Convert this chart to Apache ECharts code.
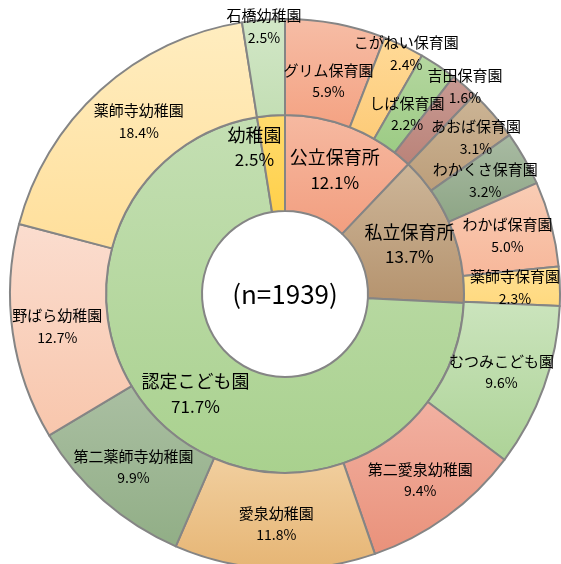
<!DOCTYPE html>
<html>
<head>
<meta charset="utf-8">
<script src="https://cdn.jsdelivr.net/npm/echarts@6/dist/echarts.min.js"></script>
<style>
  html, body { margin: 0; padding: 0; background: #fff; }
  #chart { width: 561px; height: 564px; }
</style>
</head>
<body>
<div id="chart"></div>
<script>
// inner ring: facility type (%)
const typeNames = ['公立保育所', '私立保育所', '認定こども園', '幼稚園']
const typeValues = [12.1, 13.7, 71.7, 2.5]

// outer ring: each facility (%)
const facilityNames = [
  'グリム保育園', 'こがねい保育園', 'しば保育園', '吉田保育園',
  'あおば保育園', 'わかくさ保育園', 'わかば保育園', '薬師寺保育園',
  'むつみこども園', '第二愛泉幼稚園', '愛泉幼稚園', '第二薬師寺幼稚園',
  '野ばら幼稚園', '薬師寺幼稚園', '石橋幼稚園',
]
const facilityValues = [5.9, 2.4, 2.2, 1.6, 3.1, 3.2, 5.0, 2.3, 9.6, 9.4, 11.8, 9.9, 12.7, 18.4, 2.5]

const totalCount = 1939

// top / bottom gradient colours
const typeColors = [
  ['#F6B9A1', '#F29E7F'],
  ['#CDB699', '#B5936E'],
  ['#C4DFB3', '#A9D18E'],
  ['#FFDB6E', '#FFD04A'],
]
const facilityColors = [
  ['#F6BDA6', '#F4A282'],
  ['#FFDA98', '#FDCB78'],
  ['#B5D7A0', '#9CCB84'],
  ['#C89A93', '#BA8379'],
  ['#CCB596', '#BC9E7A'],
  ['#A9BBA3', '#8DA585'],
  ['#F9CDB5', '#F7B79A'],
  ['#FFE093', '#FFD97E'],
  ['#CBE4BD', '#ADD397'],
  ['#F2B1A2', '#E9917A'],
  ['#F1CF9F', '#E6B574'],
  ['#AABFA2', '#91AE86'],
  ['#FBDDCF', '#F8C6AC'],
  ['#FFEDC0', '#FFDF9B'],
  ['#D2E7C7', '#C3DEB4'],
]

// hand-moved labels, like in the original
const labelNudge = {
  'こがねい保育園': [22, -33],
  'グリム保育園': [1, 13],
  'しば保育園': [-6, 11],
  '吉田保育園': [30, -33],
  'あおば保育園': [17, -6],
  '薬師寺幼稚園': [8, -2],
  '石橋幼稚園': [-3, -38],
  '幼稚園': [-20, -13],
}

const grad = (pair) => new echarts.graphic.LinearGradient(0, 0, 0, 1, [
  { offset: 0, color: pair[0] },
  { offset: 1, color: pair[1] },
])

const toData = (names, values, colors) =>
  names.map((name, i) => ({ name, value: values[i], itemStyle: { color: grad(colors[i]) } }))

const fmt = (p) => `{n|${p.name}}\n{p|${p.value.toFixed(1)}%}`

const center = [285, 294]
const fontFamily = '"Noto Sans CJK JP", sans-serif'

const chart = echarts.init(document.getElementById('chart'))
chart.setOption({
  animation: false,
  series: [
    {
      type: 'pie',
      center,
      radius: [83, 179],
      startAngle: 90,
      clockwise: true,
      avoidLabelOverlap: false,
      itemStyle: { borderColor: '#858585', borderWidth: 2 },
      label: {
        position: 'inside',
        formatter: fmt,
        color: '#000',
        fontFamily,
        rich: {
          n: { fontSize: 18, lineHeight: 25, fontFamily, color: '#000' },
          p: { fontSize: 17, lineHeight: 25, fontFamily, color: '#000' },
        },
      },
      labelLayout: (params) => {
        const d = labelNudge[typeNames[params.dataIndex]]
        return d ? { dx: d[0], dy: d[1] } : {}
      },
      emphasis: { disabled: true },
      data: toData(typeNames, typeValues, typeColors),
    },
    {
      type: 'pie',
      center,
      radius: [179, 275],
      startAngle: 90,
      clockwise: true,
      avoidLabelOverlap: false,
      itemStyle: { borderColor: '#858585', borderWidth: 2 },
      label: {
        position: 'inside',
        formatter: fmt,
        color: '#000',
        fontFamily,
        rich: {
          n: { fontSize: 15, lineHeight: 22, fontFamily, color: '#000' },
          p: { fontSize: 14, lineHeight: 22, fontFamily, color: '#000' },
        },
      },
      labelLayout: (params) => {
        const d = labelNudge[facilityNames[params.dataIndex]]
        return d ? { dx: d[0], dy: d[1] } : {}
      },
      emphasis: { disabled: true },
      data: toData(facilityNames, facilityValues, facilityColors),
    },
  ],
  graphic: [
    {
      type: 'text',
      x: center[0],
      y: center[1],
      style: {
        text: `(n=${totalCount})`,
        align: 'center',
        verticalAlign: 'middle',
        fontSize: 26,
        fontFamily,
        fill: '#000',
      },
    },
  ],
})
</script>
</body>
</html>
